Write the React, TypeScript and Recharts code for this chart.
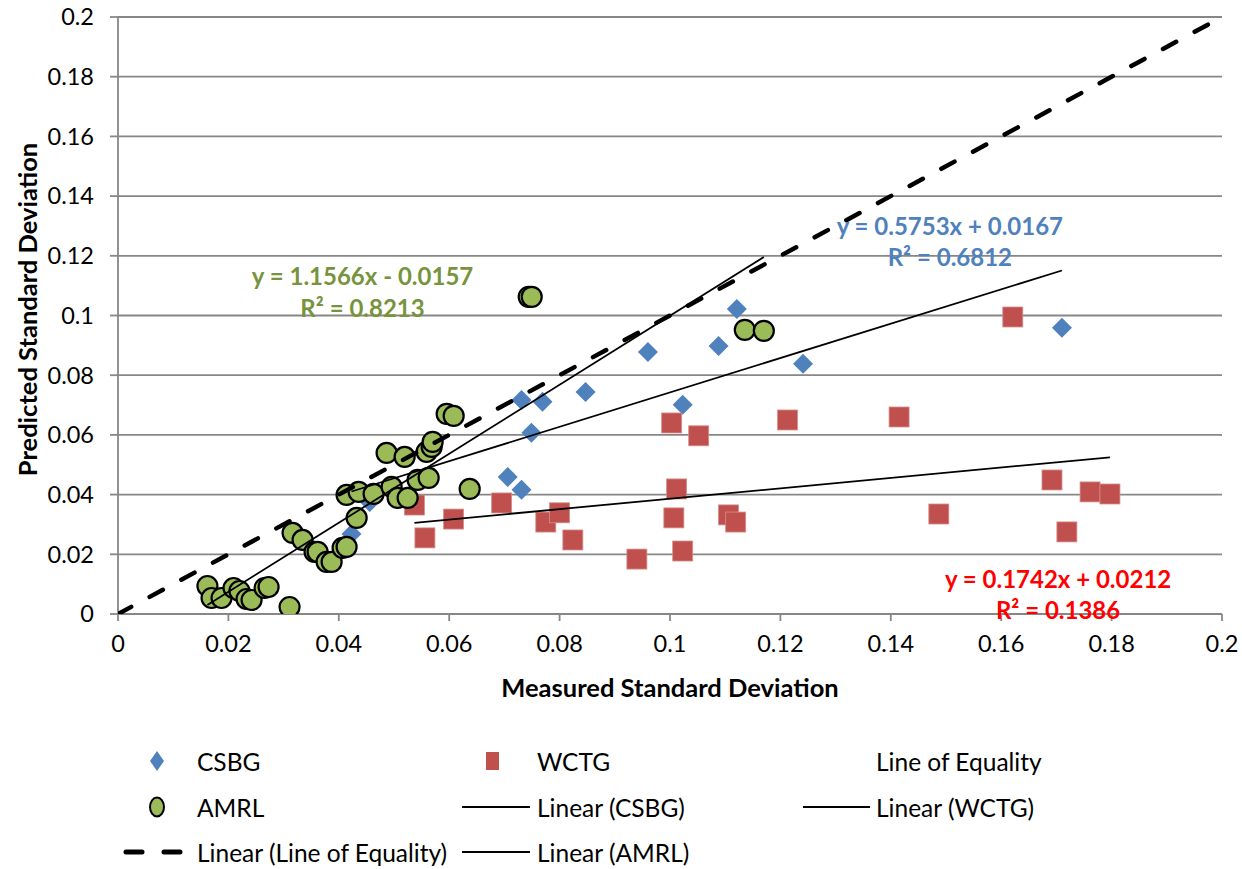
import React from 'react';
import { ScatterChart, Scatter, XAxis, YAxis, CartesianGrid, Legend, ReferenceDot, Label } from 'recharts';

// ---------- data ----------
const axisTicks = [0, 0.02, 0.04, 0.06, 0.08, 0.1, 0.12, 0.14, 0.16, 0.18, 0.2];
const axisTickLabels = ['0', '0.02', '0.04', '0.06', '0.08', '0.1', '0.12', '0.14', '0.16', '0.18', '0.2'];

const csbgX = [0.0423, 0.0456, 0.0706, 0.0731, 0.0731, 0.0749, 0.0769, 0.0847, 0.096, 0.1023, 0.1088, 0.1121, 0.1241, 0.171];
const csbgY = [0.0268, 0.0375, 0.0459, 0.0416, 0.0717, 0.0607, 0.0711, 0.0744, 0.0878, 0.0701, 0.0898, 0.1022, 0.0838, 0.0959];

const wctgX = [0.0537, 0.0556, 0.0608, 0.0695, 0.0775, 0.08, 0.0824, 0.094, 0.1003, 0.1012, 0.1007, 0.1023, 0.1052, 0.1106, 0.1119, 0.1213, 0.1415, 0.1487, 0.1621, 0.1692, 0.1719, 0.1761, 0.1797];
const wctgY = [0.0365, 0.0255, 0.0318, 0.0372, 0.0308, 0.0339, 0.0248, 0.0184, 0.064, 0.0419, 0.0322, 0.0211, 0.0597, 0.0332, 0.0308, 0.065, 0.066, 0.0335, 0.0995, 0.0449, 0.0275, 0.0409, 0.0402];

const amrlX = [0.0162, 0.01695, 0.01876, 0.02093, 0.022, 0.02329, 0.0242, 0.02655, 0.02728, 0.03108, 0.03163, 0.03344, 0.03561, 0.03616, 0.03779, 0.0387, 0.04069, 0.04141, 0.04323, 0.04141, 0.04359, 0.04631, 0.04866, 0.05193, 0.04957, 0.05066, 0.05247, 0.05428, 0.05628, 0.05591, 0.05682, 0.057, 0.06371, 0.05954, 0.06081, 0.0744, 0.07495, 0.11355, 0.117];
const amrlY = [0.00938, 0.00536, 0.00536, 0.00871, 0.0077, 0.00503, 0.00469, 0.00871, 0.00905, 0.00235, 0.02715, 0.0248, 0.02078, 0.02078, 0.01743, 0.01743, 0.02212, 0.02246, 0.03218, 0.03989, 0.04089, 0.04022, 0.05396, 0.05262, 0.04257, 0.03888, 0.03888, 0.04491, 0.04558, 0.0543, 0.05597, 0.05765, 0.0419, 0.06703, 0.06637, 0.10625, 0.10625, 0.09519, 0.09486];

const equalityX = [0, 0.2];
const equalityY = [0, 0.2];

// trendline fits: [slope, intercept, r2]
const csbgFit = [0.5753, 0.0167, 0.6812];
const wctgFit = [0.1742, 0.0212, 0.1386];
const amrlFit = [1.1566, -0.0157, 0.8213];

// annotation anchors (data coordinates)
const csbgNote = [0.1507, 0.1297, 0.1193];
const wctgNote = [0.1703, 0.0117, 0.0013];
const amrlNote = [0.0443, 0.113, 0.1022];

// ---------- helpers ----------
const zip = (xs: number[], ys: number[]) => xs.map((x, i) => ({ x, y: ys[i] }));
const fitLine = (xs: number[], fit: number[]) => {
  const lo = Math.min(...xs);
  const hi = Math.max(...xs);
  return [
    { x: lo, y: fit[0] * lo + fit[1] },
    { x: hi, y: fit[0] * hi + fit[1] },
  ];
};
const eqText = (fit: number[]) =>
  `y = ${fit[0].toFixed(4)}x ${fit[1] < 0 ? '-' : '+'} ${Math.abs(fit[1]).toFixed(4)}`;
const r2Text = (fit: number[]) => `R² = ${fit[2].toFixed(4)}`;

const FONT = 'Lato, "Open Sans", sans-serif';
const BLUE = '#4F81BD';
const RED = '#C0504D';
const GREEN = '#9BBB59';
const GRID = '#878787';

const Diamond = (p: any) => (
  <polygon
    points={`${p.cx},${p.cy - 10} ${p.cx + 10},${p.cy} ${p.cx},${p.cy + 10} ${p.cx - 10},${p.cy}`}
    fill={BLUE}
  />
);
const Square = (p: any) => (
  <rect x={p.cx - 10} y={p.cy - 10} width={20} height={20} fill={RED} stroke="#D48F8D" strokeWidth={0.8} />
);
const Ball = (p: any) => <circle cx={p.cx} cy={p.cy} r={10} fill={GREEN} stroke="#000" strokeWidth={2.2} />;
const NoMark = () => <g />;

const renderLegend = () => {
  const txt = { fontFamily: FONT, fontSize: 24.5, fill: '#000', dominantBaseline: 'central' as const };
  const r1 = 31, r2 = 77, r3 = 122;
  const c1 = 197, c2 = 537, c3 = 876;
  return (
    <svg width={1242} height={139} style={{ display: 'block' }}>
      {/* row 1 */}
      <polygon points={`157,${r1 - 10} 164,${r1} 157,${r1 + 10} 150,${r1}`} fill={BLUE} />
      <text x={c1} y={r1} {...txt}>CSBG</text>
      <rect x={486} y={r1 - 9} width={13} height={18} fill={RED} />
      <text x={c2} y={r1} {...txt}>WCTG</text>
      <text x={c3} y={r1} {...txt}>Line of Equality</text>
      {/* row 2 */}
      <ellipse cx={157} cy={r2} rx={7} ry={9.5} fill={GREEN} stroke="#000" strokeWidth={2} />
      <text x={c1} y={r2} {...txt}>AMRL</text>
      <line x1={462} x2={530} y1={r2} y2={r2} stroke="#000" strokeWidth={2} />
      <text x={c2} y={r2} {...txt}>Linear (CSBG)</text>
      <line x1={803} x2={870} y1={r2} y2={r2} stroke="#000" strokeWidth={2} />
      <text x={c3} y={r2} {...txt}>Linear (WCTG)</text>
      {/* row 3 */}
      <line x1={126} x2={190} y1={r3} y2={r3} stroke="#000" strokeWidth={5} strokeDasharray="16 22" strokeLinecap="round" />
      <text x={c1} y={r3} {...txt}>Linear (Line of Equality)</text>
      <line x1={462} x2={530} y1={r3} y2={r3} stroke="#000" strokeWidth={2} />
      <text x={c2} y={r3} {...txt}>Linear (AMRL)</text>
    </svg>
  );
};

const note = (x: number, y: number, text: string, color: string, key: string) => (
  <ReferenceDot
    key={key}
    x={x}
    y={y}
    r={0}
    fill="none"
    stroke="none"
    ifOverflow="visible"
    label={{ value: text, position: 'center', fill: color, fontSize: 24, fontWeight: 700, fontFamily: FONT }}
  />
);

export default function App() {
  const tickStyle = { fill: '#000', fontSize: 23.5, fontFamily: FONT };
  const fmt = (v: number) => axisTickLabels[axisTicks.findIndex((t) => Math.abs(t - v) < 1e-9)] ?? String(v);
  return (
    <div style={{ position: 'absolute', left: 0, top: 0, width: 1242, height: 869, background: '#fff' }}>
      <ScatterChart
        width={1242}
        height={869}
        margin={{ top: 17, right: 20, left: 0, bottom: 0 }}
        style={{ fontFamily: FONT }}
      >
        <CartesianGrid vertical={false} stroke={GRID} strokeWidth={1.8} />
        <XAxis
          type="number"
          dataKey="x"
          domain={[0, 0.2]}
          ticks={axisTicks}
          interval={0}
          tickFormatter={fmt}
          tick={tickStyle}
          tickSize={7}
          tickMargin={14}
          stroke={GRID}
          strokeWidth={1.8}
          height={116}
          allowDataOverflow
        >
          <Label
            value="Measured Standard Deviation"
            position="insideBottom"
            offset={33}
            style={{ fontFamily: FONT, fontSize: 25.5, fontWeight: 700, fill: '#000' }}
          />
        </XAxis>
        <YAxis
          type="number"
          dataKey="y"
          domain={[0, 0.2]}
          ticks={axisTicks}
          interval={0}
          tickFormatter={fmt}
          tick={tickStyle}
          tickSize={8}
          tickMargin={16}
          stroke={GRID}
          strokeWidth={1.8}
          width={118}
          allowDataOverflow
        >
          <Label
            content={(props: any) => {
              const vb = props.viewBox || { x: 0, y: 17, width: 118, height: 597 };
              const cx = vb.x + 27;
              const cy = vb.y + vb.height / 2 - 6;
              return (
                <text
                  x={cx}
                  y={cy}
                  transform={`rotate(-90 ${cx} ${cy})`}
                  textAnchor="middle"
                  dominantBaseline="central"
                  style={{ fontFamily: FONT, fontSize: 25.5, fontWeight: 700, fill: '#000' }}
                >
                  Predicted Standard Deviation
                </text>
              );
            }}
          />
        </YAxis>
        <Legend
          verticalAlign="bottom"
          width={1242}
          height={139}
          wrapperStyle={{ left: 0, top: 730, width: 1242, height: 139 }}
          content={renderLegend}
        />

        <Scatter name="CSBG" data={zip(csbgX, csbgY)} shape={Diamond} isAnimationActive={false} />
        <Scatter name="WCTG" data={zip(wctgX, wctgY)} shape={Square} isAnimationActive={false} />
        <Scatter name="AMRL" data={zip(amrlX, amrlY)} shape={Ball} isAnimationActive={false} />

        <Scatter
          name="Linear (Line of Equality)"
          data={zip(equalityX, equalityY)}
          shape={NoMark}
          line={{ stroke: '#000', strokeWidth: 4.5, strokeDasharray: '15 21', strokeLinecap: 'round' }}
          isAnimationActive={false}
        />
        <Scatter
          name="Linear (CSBG)"
          data={fitLine(csbgX, csbgFit)}
          shape={NoMark}
          line={{ stroke: '#000', strokeWidth: 1.8 }}
          isAnimationActive={false}
        />
        <Scatter
          name="Linear (WCTG)"
          data={fitLine(wctgX, wctgFit)}
          shape={NoMark}
          line={{ stroke: '#000', strokeWidth: 1.8 }}
          isAnimationActive={false}
        />
        <Scatter
          name="Linear (AMRL)"
          data={fitLine(amrlX, amrlFit)}
          shape={NoMark}
          line={{ stroke: '#000', strokeWidth: 1.8 }}
          isAnimationActive={false}
        />

        {note(amrlNote[0], amrlNote[1], eqText(amrlFit), '#77933C', 'a1')}
        {note(amrlNote[0], amrlNote[2], r2Text(amrlFit), '#77933C', 'a2')}
        {note(csbgNote[0], csbgNote[1], eqText(csbgFit), BLUE, 'c1')}
        {note(csbgNote[0], csbgNote[2], r2Text(csbgFit), BLUE, 'c2')}
        {note(wctgNote[0], wctgNote[1], eqText(wctgFit), '#FF0000', 'w1')}
        {note(wctgNote[0], wctgNote[2], r2Text(wctgFit), '#FF0000', 'w2')}
      </ScatterChart>
    </div>
  );
}
